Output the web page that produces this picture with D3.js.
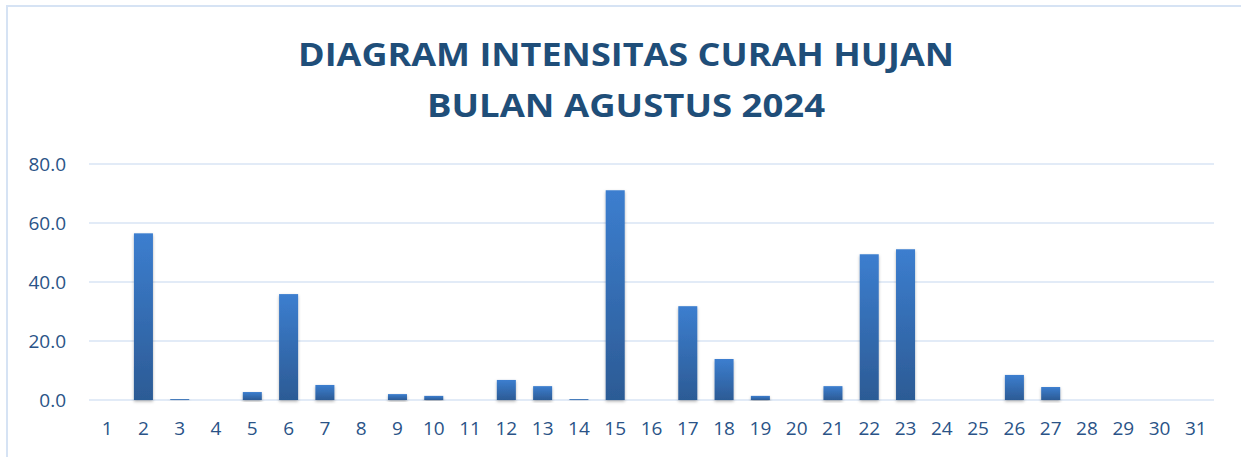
<!DOCTYPE html>
<html>
<head>
<meta charset="utf-8">
<script src="https://cdn.jsdelivr.net/npm/d3@7"></script>
<style>
  html, body { margin: 0; padding: 0; background: #fff; overflow: hidden; }
  svg { display: block; }
</style>
</head>
<body>
<div id="wrapper"></div>
<script>
// data
const titleLines = ["DIAGRAM INTENSITAS CURAH HUJAN", "BULAN AGUSTUS 2024"]
const days = d3.range(1, 32).map(String)
const rainfall = [0, 56.5, 0.3, 0, 2.7, 35.9, 5.1, 0, 2.0, 1.4,
                  0, 6.8, 4.7, 0.3, 71.1, 0, 31.8, 13.9, 1.4, 0,
                  4.7, 49.4, 51.1, 0, 0, 8.5, 4.4, 0, 0, 0, 0]
const yTicks = [0, 20, 40, 60, 80]

const dimensions = {
  width: 1241,
  height: 457,
  margin: { top: 164, right: 27, bottom: 57, left: 89 },
}
dimensions.boundedWidth = dimensions.width - dimensions.margin.left - dimensions.margin.right
dimensions.boundedHeight = dimensions.height - dimensions.margin.top - dimensions.margin.bottom

const wrapper = d3.select("#wrapper")
  .append("svg")
    .attr("width", dimensions.width)
    .attr("height", dimensions.height)

const defs = wrapper.append("defs")
const grad = defs.append("linearGradient")
    .attr("id", "barGrad")
    .attr("x1", 0).attr("y1", 0).attr("x2", 0).attr("y2", 1)
grad.append("stop").attr("offset", "0%").attr("stop-color", "#3c7ecf")
grad.append("stop").attr("offset", "100%").attr("stop-color", "#2c5b95")

const shadow = defs.append("filter")
    .attr("id", "barShadow")
    .attr("x", "-30%").attr("y", "-10%").attr("width", "160%").attr("height", "130%")
shadow.append("feDropShadow")
    .attr("dx", 0).attr("dy", 1.5).attr("stdDeviation", 1.5)
    .attr("flood-color", "#000").attr("flood-opacity", 0.3)

// chart area border (runs off the right/bottom edge like the screenshot)
wrapper.append("rect")
    .attr("x", 7).attr("y", 6)
    .attr("width", 1300).attr("height", 500)
    .attr("fill", "none")
    .attr("stroke", "#d6e3f4")
    .attr("stroke-width", 2)

// title
const titleFont = "'Open Sans', 'Noto Sans', sans-serif"
wrapper.append("g")
  .selectAll("text")
  .data(titleLines)
  .join("text")
    .attr("x", 626)
    .attr("y", (d, i) => 66 + i * 51)
    .attr("text-anchor", "middle")
    .attr("font-family", titleFont)
    .attr("font-weight", 700)
    .attr("font-size", 33)
    .attr("fill", "#1f4e79")
    .attr("textLength", (d, i) => i === 0 ? 656 : 398)
    .attr("lengthAdjust", "spacingAndGlyphs")
    .text(d => d)

const bounds = wrapper.append("g")
    .attr("transform", `translate(${dimensions.margin.left}, ${dimensions.margin.top})`)

const xScale = d3.scaleBand()
    .domain(days)
    .range([0, dimensions.boundedWidth])
    .paddingInner(0.476)
    .paddingOuter(0.238)

const yScale = d3.scaleLinear()
    .domain([0, 80])
    .range([dimensions.boundedHeight, 0])

// gridlines
bounds.append("g")
  .selectAll("line")
  .data(yTicks)
  .join("line")
    .attr("x1", 0)
    .attr("x2", dimensions.boundedWidth)
    .attr("y1", d => yScale(d))
    .attr("y2", d => yScale(d))
    .attr("stroke", "#d9e5f4")
    .attr("stroke-width", 1.6)

// bars
bounds.append("g")
  .selectAll("rect")
  .data(rainfall.map((v, i) => ({ day: days[i], value: v })).filter(d => d.value > 0))
  .join("rect")
    .attr("x", d => xScale(d.day))
    .attr("width", xScale.bandwidth())
    .attr("y", d => yScale(d.value))
    .attr("height", d => dimensions.boundedHeight - yScale(d.value))
    .attr("fill", "url(#barGrad)")
    .attr("filter", "url(#barShadow)")

const tickFont = "'Open Sans', 'Noto Sans', sans-serif"
const tickColor = "#2a5387"

// y axis
const yAxis = bounds.append("g")
    .call(d3.axisLeft(yScale).tickValues(yTicks).tickFormat(d3.format(".1f")).tickSize(0).tickPadding(23))
yAxis.select(".domain").remove()
yAxis.selectAll("text")
    .attr("font-family", tickFont)
    .attr("font-size", 19)
    .attr("fill", tickColor)

// x axis
const xAxis = bounds.append("g")
    .attr("transform", `translate(0, ${dimensions.boundedHeight})`)
    .call(d3.axisBottom(xScale).tickSize(0).tickPadding(22))
xAxis.select(".domain").remove()
xAxis.selectAll("text")
    .attr("font-family", tickFont)
    .attr("font-size", 19)
    .attr("fill", tickColor)
</script>
</body>
</html>
